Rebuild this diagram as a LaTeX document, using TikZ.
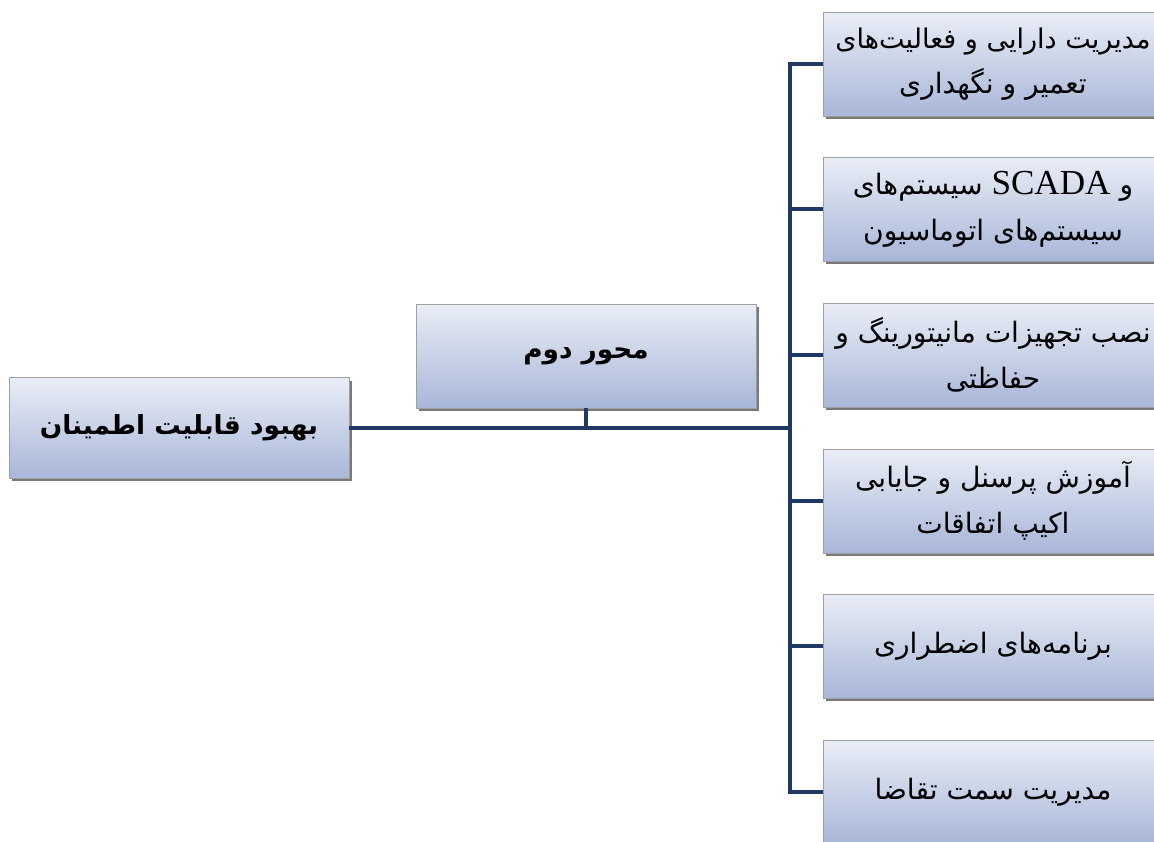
\documentclass[tikz,border=0pt]{standalone}
\usepackage{fontspec}
\TeXXeTstate=1
\newfontfamily\arabicfont[Script=Arabic]{DejaVu Sans}
\newfontfamily\latinfont{Liberation Serif}
\newcommand{\fa}[1]{{\arabicfont\beginR #1\endR}}
\usetikzlibrary{shadows}
\definecolor{navy}{RGB}{31,56,100}
\definecolor{boxtop}{RGB}{233,237,246}
\definecolor{boxbot}{RGB}{168,182,216}
\tikzstyle{Box}=[draw=gray!75, top color=boxtop, bottom color=boxbot, align=center, minimum width=6.8cm, minimum height=2.08cm, drop shadow={shadow xshift=0.06cm, shadow yshift=-0.06cm, fill=black!70, opacity=0.75}, font=\fontsize{16}{26}\selectfont]
\tikzstyle{Main}=[Box, font=\fontsize{15}{26}\bfseries\selectfont]
\tikzstyle{Line}=[draw=navy, line width=2.3pt]

\begin{document}
\begin{tikzpicture}[x=0.02cm, y=-0.02cm]
    \useasboundingbox (0, 0) rectangle (1154, 842);

    \node[Main, minimum height=2.02cm] (goal) at (179, 428) {\fa{بهبود قابلیت اطمینان}};
    \node[Main] (axis) at (586, 356) {\fa{محور دوم}};

    \node[Box] (asset) at (993, 64) {\fa{\fontsize{15.4}{26}\selectfont مدیریت دارایی و فعالیت‌های}\\\fa{تعمیر و نگهداری}};
    \node[Box] (scada) at (993, 209) {\fa{و \beginL{\fontsize{20}{26}\latinfont SCADA}\endL{} سیستم‌های}\\\fa{سیستم‌های اتوماسیون}};
    \node[Box] (monit) at (993, 355) {\fa{نصب تجهیزات مانیتورینگ و}\\\fa{حفاظتی}};
    \node[Box] (train) at (993, 501) {\fa{آموزش پرسنل و جایابی}\\\fa{اکیپ اتفاقات}};
    \node[Box] (emerg) at (993, 646) {\fa{برنامه‌های اضطراری}};
    \node[Box] (demand) at (993, 792) {\fa{مدیریت سمت تقاضا}};

    \coordinate (trunk) at (790, 428);

    \draw[Line] (goal.east) -- (trunk);
    \draw[Line] (axis.south) -- (axis.south |- trunk);
    \draw[Line] (asset.west) -- (trunk |- asset.west) -- (trunk |- demand.west) -- (demand.west);

    \draw[Line] (trunk |- scada.west) -- (scada.west);
    \draw[Line] (trunk |- monit.west) -- (monit.west);
    \draw[Line] (trunk |- train.west) -- (train.west);
    \draw[Line] (trunk |- emerg.west) -- (emerg.west);

\end{tikzpicture}
\end{document}
